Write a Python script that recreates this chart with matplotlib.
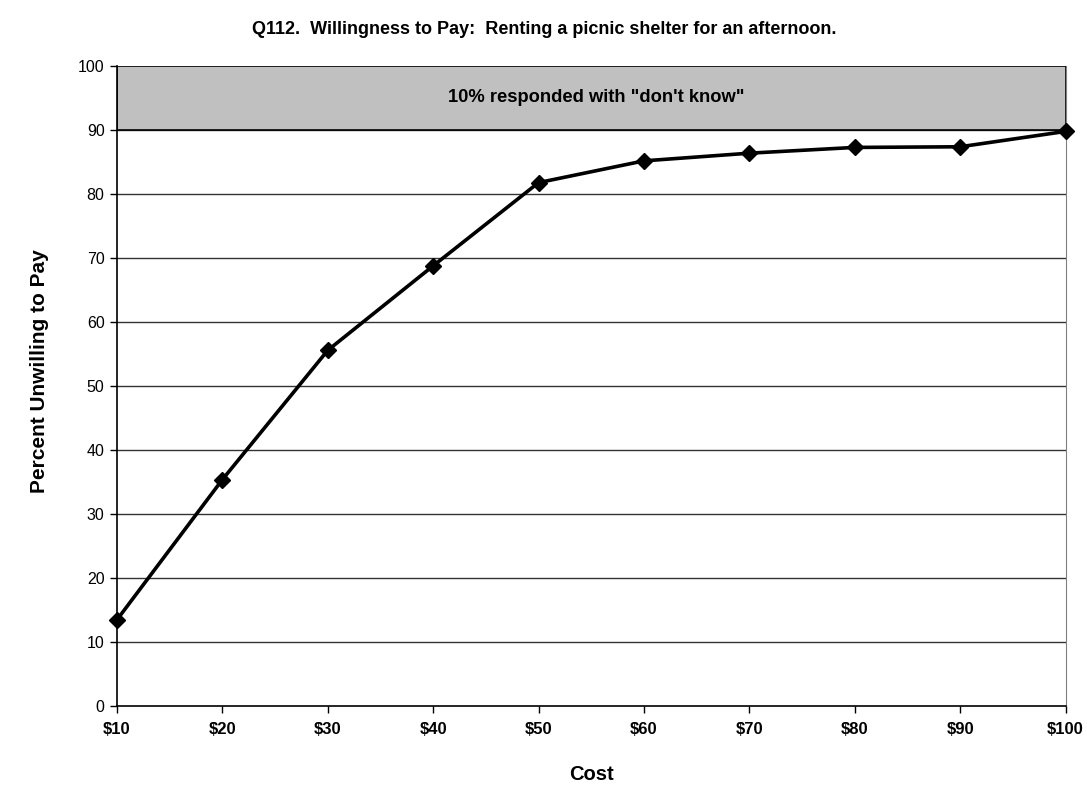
import matplotlib.pyplot as plt

plt.rcParams['font.family'] = ['Liberation Sans', 'DejaVu Sans']

costs = [10, 20, 30, 40, 50, 60, 70, 80, 90, 100]
cost_labels = ['$10', '$20', '$30', '$40', '$50', '$60', '$70', '$80', '$90', '$100']
pct_unwilling = [13.4, 35.3, 55.5, 68.7, 81.7, 85.1, 86.3, 87.2, 87.3, 89.7]
dont_know_band = (90, 100)

fig = plt.figure(figsize=(10.87, 7.85), dpi=100)
ax = fig.add_axes([117 / 1087, (785 - 705.5) / 785, (1065.5 - 117) / 1087, 640 / 785])

for y in range(10, 100, 10):
    ax.axhline(y, color='#333333', linewidth=1.0, zorder=1)

ax.axhspan(dont_know_band[0], dont_know_band[1], facecolor='#c0c0c0',
           edgecolor='black', linewidth=1.2, zorder=2)
ax.text(55.5, 95, '10% responded with "don\'t know"', ha='center', va='center',
        fontsize=13.2, fontweight='bold', zorder=3)

ax.plot(costs, pct_unwilling, color='black', linewidth=2.6, marker='D',
        markersize=8.5, zorder=4, clip_on=False)

ax.set_xlim(10, 100)
ax.set_ylim(0, 100)
ax.set_xticks(costs)
ax.set_xticklabels(cost_labels, fontweight='bold', fontsize=12)
ax.set_yticks(range(0, 101, 10))
ax.tick_params(axis='y', labelsize=11.5, length=5, width=1, direction='out', pad=4)
ax.tick_params(axis='x', length=5, width=1, direction='out', pad=7)

ax.spines['top'].set_visible(False)
ax.spines['right'].set_color('#808080')
ax.spines['left'].set_linewidth(1.2)
ax.spines['bottom'].set_linewidth(1.2)

ax.set_xlabel('Cost', fontsize=14.5, fontweight='bold', labelpad=20)
ax.set_ylabel('Percent Unwilling to Pay', fontsize=15, fontweight='bold', va='center')
ax.yaxis.set_label_coords(-0.0812, 0.523)
fig.text(0.5005, 1 - 30 / 785, 'Q112.  Willingness to Pay:  Renting a picnic shelter for an afternoon.',
         ha='center', va='center', fontsize=13, fontweight='bold')

fig.savefig('out.png', dpi=100)
